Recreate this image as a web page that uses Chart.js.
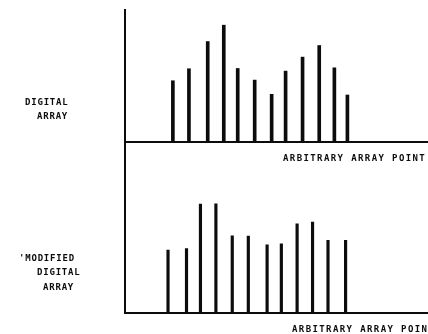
<!DOCTYPE html>
<html>
<head>
<meta charset="utf-8">
<script src="https://cdn.jsdelivr.net/npm/chart.js@4.4.0/dist/chart.umd.min.js"></script>
<style>
  html, body { margin: 0; padding: 0; background: #fff; }
  #wrap { position: relative; width: 428px; height: 334px; }
  #wrap canvas { position: absolute; left: 0; top: 0; }
</style>
</head>
<body>
<div id="wrap">
  <canvas id="digital" width="428" height="334"></canvas>
  <canvas id="modified" width="428" height="334"></canvas>
</div>
<script>
// array point (0-100 along the axis) and amplitude
const digitalPoints = [15.8, 21.1, 27.3, 32.6, 37.2, 42.8, 48.4, 53.0, 58.6, 64.1, 69.1, 73.4];
const digitalValues = [46.4, 55.5, 76.1, 88.5, 55.7, 46.9, 36.1, 53.7, 64.3, 73.1, 56.2, 35.6];
const modifiedPoints = [14.2, 20.3, 24.9, 30.0, 35.4, 40.7, 46.9, 51.6, 56.8, 61.9, 67.0, 72.8];
const modifiedValues = [47.8, 48.8, 82.5, 82.7, 58.6, 58.3, 51.8, 52.5, 67.6, 68.9, 55.1, 55.1];
const digitalLabel = ['DIGITAL', 'ARRAY'];
const modifiedLabel = ["'MODIFIED", 'DIGITAL', 'ARRAY'];
const xTitle = 'ARBITRARY ARRAY POINT';

const INK = '#0c0c0c';
const FONT = 'bold 9px "DejaVu Sans Mono"';

// draws the hand-lettered captions
const panelText = {
  id: 'panelText',
  afterDraw(chart, args, opts) {
    const ctx = chart.ctx;
    ctx.save();
    ctx.fillStyle = INK;
    ctx.font = FONT;
    ctx.textBaseline = 'middle';
    ctx.textAlign = 'left';
    (opts.lines || []).forEach(l => {
      ctx.letterSpacing = l.spacing + 'px';
      ctx.fillText(l.text, l.x, l.y);
    });
    ctx.restore();
  }
};

function pts(xs, ys) {
  return xs.map((x, i) => ({ x: x, y: ys[i] }));
}

function makePanel(id, xs, ys, yMax, pad, thick, lines) {
  return new Chart(document.getElementById(id), {
    type: 'bar',
    data: {
      datasets: [{
        data: pts(xs, ys),
        backgroundColor: INK,
        borderWidth: 0,
        barThickness: thick
      }]
    },
    options: {
      responsive: false,
      animation: false,
      events: [],
      layout: { padding: pad },
      plugins: {
        legend: { display: false },
        tooltip: { enabled: false },
        panelText: { lines: lines }
      },
      scales: {
        x: {
          type: 'linear', min: 0, max: 100, offset: false,
          ticks: { display: false },
          grid: { display: false },
          border: { display: true, color: INK, width: 2 }
        },
        y: {
          min: 0, max: yMax,
          ticks: { display: false },
          grid: { display: false },
          border: { display: true, color: INK, width: 2 }
        }
      }
    },
    plugins: [panelText]
  });
}

makePanel('digital', digitalPoints, digitalValues, 100,
  { left: 117, top: 10, right: 0, bottom: 184 }, 3,
  [
    { text: digitalLabel[0], x: 25, y: 103, spacing: 0.8 },
    { text: digitalLabel[1], x: 37, y: 117, spacing: 0.8 },
    { text: xTitle, x: 283, y: 159, spacing: 1.4 }
  ]);

makePanel('modified', modifiedPoints, modifiedValues, 129,
  { left: 117, top: 142.5, right: 0, bottom: 12.7 }, 2.5,
  [
    { text: modifiedLabel[0], x: 19, y: 259, spacing: 0.8 },
    { text: modifiedLabel[1], x: 37, y: 273, spacing: 0.8 },
    { text: modifiedLabel[2], x: 43, y: 288, spacing: 0.8 },
    { text: xTitle, x: 292, y: 330, spacing: 1.4 }
  ]);
</script>
</body>
</html>
